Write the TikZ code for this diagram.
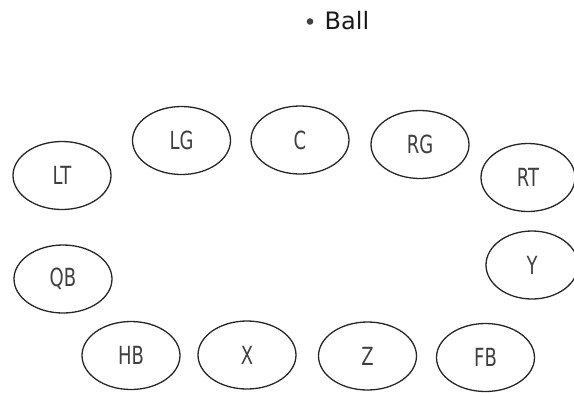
\documentclass[tikz,border=0pt]{standalone}
\usepackage{fontspec}
\setmainfont{DejaVu Sans}
\newfontfamily\labfont[FakeStretch=0.72]{DejaVu Sans}
\usetikzlibrary{shapes.geometric}
\begin{document}
\begin{tikzpicture}[x=1pt,y=-1pt,
  player/.style={ellipse,draw=black!85,line width=1.3pt,minimum width=98pt,minimum height=68pt,inner sep=0pt,
    font=\labfont\fontsize{25}{25}\selectfont,text=black!75},
  balltext/.style={font=\fontsize{24}{24}\selectfont,text=black!90,inner sep=0pt,anchor=base west}]
\useasboundingbox (0,0) rectangle (574,392);
\fill[black!75] (310,21.5) circle (3.3pt);
\node[balltext] (ball) at (324.5,29) {Ball};
\node[player] (LT) at (62,175.5) {LT};
\node[player] (LG) at (181.5,140.5) {LG};
\node[player] (C) at (300,140) {C};
\node[player] (RG) at (420,144.5) {RG};
\node[player,minimum width=94pt] (RT) at (528,177.5) {RT};
\node[player] (QB) at (63,279) {QB};
\node[player,minimum width=92pt] (Y) at (532,265) {Y};
\node[player] (HB) at (131,355.5) {HB};
\node[player] (X) at (247,355) {X};
\node[player] (Z) at (367.5,356) {Z};
\node[player] (FB) at (485.5,357.5) {FB};
\end{tikzpicture}
\end{document}
